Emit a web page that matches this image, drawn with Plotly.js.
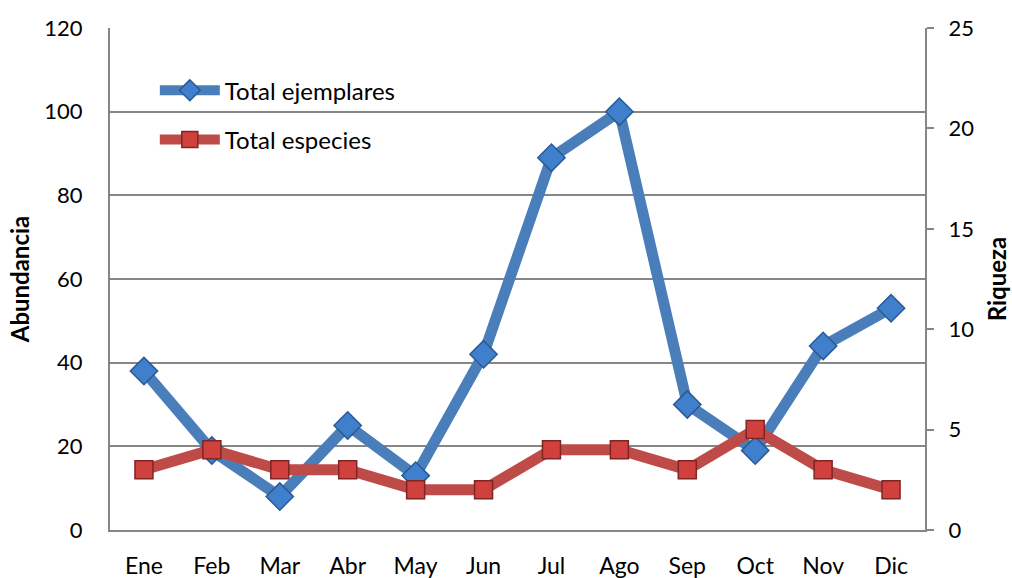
<!DOCTYPE html>
<html>
<head>
<meta charset="utf-8">
<script src="https://cdn.plot.ly/plotly-3.0.1.min.js"></script>
<style>html,body{margin:0;padding:0;background:#fff;}#chart{width:1012px;height:578px;}</style>
</head>
<body>
<div id="chart"></div>
<script>
const months = ["Ene","Feb","Mar","Abr","May","Jun","Jul","Ago","Sep","Oct","Nov","Dic"];
const totalEjemplares = [38, 19, 8, 25, 13, 42, 89, 100, 30, 19, 44, 53];
const totalEspecies = [3, 4, 3, 3, 2, 2, 4, 4, 3, 5, 3, 2];
const leftTicks = [0, 20, 40, 60, 80, 100, 120];
const rightTicks = [0, 5, 10, 15, 20, 25];

const font = "Lato, 'Open Sans', sans-serif";

const traces = [
  {
    x: months, y: totalEjemplares, name: "Total ejemplares", type: "scatter", mode: "lines+markers",
    yaxis: "y", legendgroup: "a",
    line: {color: "#4a7ebb", width: 11},
    marker: {symbol: "diamond", size: 21, color: "#3f7fcc", line: {color: "#2a5a94", width: 1.5}}
  },
  {
    x: months, y: totalEspecies, name: "Total especies", type: "scatter", mode: "lines+markers",
    yaxis: "y2", legendgroup: "b",
    line: {color: "#be4b48", width: 11},
    marker: {symbol: "square", size: 18, color: "#d0413d", line: {color: "#7f2523", width: 1.5}}
  }
];

const layout = {
  width: 1012, height: 578,
  margin: {l: 110, r: 87, t: 28, b: 48},
  paper_bgcolor: "#fff", plot_bgcolor: "#fff",
  font: {family: font, size: 22, color: "#000"},
  showlegend: true,
  legend: {x: 0.055, y: 0.92, xanchor: "left", yanchor: "top", bgcolor: "rgba(0,0,0,0)",
           font: {family: font, size: 24, color: "#000"}, tracegroupgap: 15, itemwidth: 60},
  xaxis: {
    type: "category", range: [-0.5, 11.5], showgrid: false, zeroline: false,
    showline: true, linecolor: "#868686", linewidth: 2, ticks: "", ticklabelstandoff: 14,
    tickfont: {family: font, size: 23, color: "#000"}
  },
  yaxis: {
    range: [0, 120], tickvals: leftTicks, ticktext: leftTicks.map(String),
    showgrid: true, gridcolor: "#868686", gridwidth: 2, zeroline: false,
    showline: true, linecolor: "#868686", linewidth: 2, ticks: "", ticklabelstandoff: 21,
    tickfont: {family: font, size: 22, color: "#000"},
    title: {text: "<b>Abundancia</b>", font: {family: font, size: 24, color: "#000"}, standoff: 8}
  },
  yaxis2: {
    range: [0, 25], tickvals: rightTicks, ticktext: rightTicks.map(String), overlaying: "y", side: "right",
    showgrid: false, zeroline: false,
    showline: true, linecolor: "#868686", linewidth: 2, ticks: "outside", ticklen: 7, tickcolor: "#868686", tickwidth: 2,
    ticklabelstandoff: 10,
    tickfont: {family: font, size: 22, color: "#000"},
    title: {text: "<b>Riqueza</b>", font: {family: font, size: 24, color: "#000"}, standoff: 16}
  }
};

Plotly.newPlot("chart", traces, layout, {staticPlot: true, displayModeBar: false});
</script>
</body>
</html>
